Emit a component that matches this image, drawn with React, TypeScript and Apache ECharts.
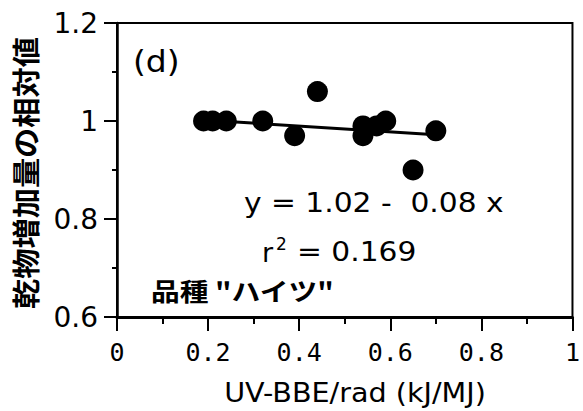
import React, { useEffect, useRef } from "react";
import * as echarts from "echarts";

// UV-BBE/rad (kJ/MJ) and relative dry-matter increase
const uvRatio = [0.19, 0.21, 0.24, 0.32, 0.39, 0.44, 0.54, 0.54, 0.57, 0.59, 0.65, 0.70];
const relGrowth = [1.0, 1.0, 1.0, 1.0, 0.97, 1.06, 0.99, 0.97, 0.99, 1.0, 0.90, 0.98];
// drawn regression line end points
const fitX = [0.19, 0.70];
const fitY = [1.002, 0.972];

const xTitle = "UV-BBE/rad (kJ/MJ)";
const yTitle = "乾物増加量の相対値";
const panelLabel = "(d)";
const eqText = "y = 1.02 -  0.08 x";
const varietyText = "品種 \"ハイツ\"";

export default function App() {
  const ref = useRef<HTMLDivElement>(null);
  useEffect(() => {
    if (!ref.current) return;
    const chart = echarts.init(ref.current, null, { renderer: "svg" });
    const sans = "DejaVu Sans";
    const cjk = "'Noto Sans CJK JP'";
    chart.setOption({
      animation: false,
      backgroundColor: "#fff",
      grid: {
        left: 117,
        right: 10,
        top: 23,
        bottom: 94,
        show: true,
        borderColor: "#000",
        borderWidth: 2,
        containLabel: false,
      },
      xAxis: {
        type: "value",
        min: 0,
        max: 1,
        interval: 0.2,
        axisLine: { show: true, lineStyle: { color: "#000", width: 3 } },
        axisTick: { show: true, length: 14, lineStyle: { color: "#000", width: 2 } },
        minorTick: { show: true, splitNumber: 2, length: 7, lineStyle: { color: "#000", width: 2 } },
        splitLine: { show: false },
        axisLabel: {
          fontFamily: "DejaVu Sans Mono",
          fontSize: 25,
          color: "#000",
          margin: 23,
          formatter: (v: number) => String(Math.round(v * 10) / 10),
        },
      },
      yAxis: {
        type: "value",
        min: 0.6,
        max: 1.2,
        interval: 0.2,
        axisLine: { show: true, lineStyle: { color: "#000", width: 2.5 } },
        axisTick: { show: true, length: 13, lineStyle: { color: "#000", width: 2 } },
        minorTick: { show: true, splitNumber: 2, length: 5, lineStyle: { color: "#000", width: 2 } },
        splitLine: { show: false },
        axisLabel: {
          fontFamily: sans,
          fontSize: 28,
          color: "#000",
          margin: 19,
          formatter: (v: number) => String(Math.round(v * 10) / 10),
        },
      },
      series: [
        {
          type: "line",
          data: fitX.map((x, i) => [x, fitY[i]]),
          showSymbol: false,
          symbol: "none",
          lineStyle: { color: "#000", width: 3 },
          z: 1,
        },
        {
          type: "scatter",
          data: uvRatio.map((x, i) => [x, relGrowth[i]]),
          symbol: "circle",
          symbolSize: 21,
          itemStyle: { color: "#000", opacity: 1 },
          z: 2,
        },
      ],
      graphic: [
        {
          type: "text",
          x: 25,
          y: 173,
          rotation: Math.PI / 2,
          scaleX: 1.08,
          style: {
            text: yTitle,
            font: `bold 28px ${cjk}`,
            fill: "#000",
            align: "center",
            verticalAlign: "middle",
          },
        },
        {
          type: "text",
          x: 355,
          y: 393,
          scaleX: 1.1,
          style: {
            text: xTitle,
            font: `26px ${sans}`,
            fill: "#000",
            align: "center",
            verticalAlign: "middle",
          },
        },
        {
          type: "text",
          x: 133,
          y: 62,
          scaleX: 1.1,
          style: {
            text: panelLabel,
            font: `30px ${sans}`,
            fill: "#000",
            align: "left",
            verticalAlign: "middle",
          },
        },
        {
          type: "text",
          x: 244,
          y: 203,
          scaleX: 1.1,
          style: {
            text: eqText,
            font: `27px ${sans}`,
            fill: "#000",
            align: "left",
            verticalAlign: "middle",
          },
        },
        {
          type: "text",
          x: 262,
          y: 252,
          style: {
            text: "r",
            font: `27px ${sans}`,
            fill: "#000",
            align: "left",
            verticalAlign: "middle",
          },
        },
        {
          type: "text",
          x: 276,
          y: 244,
          style: {
            text: "2",
            font: `17px ${sans}`,
            fill: "#000",
            align: "left",
            verticalAlign: "middle",
          },
        },
        {
          type: "text",
          x: 297,
          y: 252,
          scaleX: 1.1,
          style: {
            text: "= 0.169",
            font: `27px ${sans}`,
            fill: "#000",
            align: "left",
            verticalAlign: "middle",
          },
        },
        {
          type: "text",
          x: 151,
          y: 290,
          scaleX: 1.15,
          style: {
            text: varietyText,
            font: `bold 25px ${cjk}`,
            fill: "#000",
            align: "left",
            verticalAlign: "middle",
          },
        },
      ],
    });
    return () => chart.dispose();
  }, []);
  return (
    <div
      ref={ref}
      style={{ position: "fixed", left: 0, top: 0, width: 583, height: 411 }}
    />
  );
}
